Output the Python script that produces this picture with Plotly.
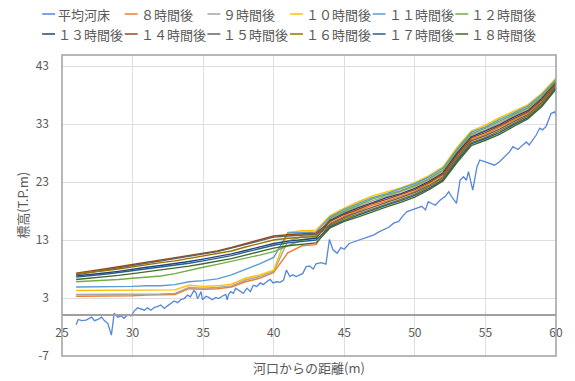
import plotly.graph_objects as go

# ---- data -------------------------------------------------------------
# cross-section positions for the water-level series (m from the river mouth)
distance = [26, 27, 28, 29, 30, 31, 32, 33, 34, 35, 36, 37, 38, 39, 40, 41, 42,
            43, 44, 45, 46, 47, 48, 49, 50, 51, 52, 53, 54, 55, 56, 57, 58, 59, 60]

# mean river-bed profile
bed_distance = [26.0, 26.15, 26.4, 26.7, 27.1, 27.3, 27.55, 27.8, 28.0, 28.25, 28.5, 28.7,
                28.95, 29.2, 29.4, 29.65, 29.9, 30.1, 30.35, 30.6, 30.85, 31.05, 31.3, 31.55,
                31.75, 32.0, 32.25, 32.45, 32.7, 32.95, 33.2, 33.4, 33.65, 33.9, 34.1, 34.35,
                34.5, 34.6, 34.7, 34.85, 34.95, 35.2, 35.4, 35.65, 35.9, 36.1, 36.35, 36.6,
                36.7, 36.8, 36.95, 37.15, 37.3, 37.5, 37.65, 37.85, 38.1, 38.35, 38.55, 38.8,
                39.05, 39.25, 39.5, 39.75, 39.95, 40.2, 40.45, 40.7, 40.9, 41.15, 41.35, 41.6,
                41.85, 42.05, 42.3, 42.55, 42.8, 43.0, 43.35, 43.7, 43.95, 44.2, 44.5, 44.75,
                45.0, 45.35, 45.7, 46.05, 46.4, 46.75, 47.1, 47.45, 47.8, 48.15, 48.5, 48.85,
                49.2, 49.45, 49.8, 50.15, 50.5, 50.75, 50.95, 51.2, 51.45, 51.8, 52.15, 52.4,
                52.6, 52.95, 53.2, 53.45, 53.65, 53.8, 54.1, 54.4, 54.6, 54.95, 55.3, 55.65,
                56.0, 56.35, 56.7, 56.95, 57.3, 57.65, 57.9, 58.1, 58.35, 58.6, 58.85, 59.05,
                59.3, 59.65, 59.9, 60.0]
bed_elevation = [-1.6, -0.7, -0.9, -0.8, -0.3, -0.9, -0.7, -0.3, -0.9, -1.4, -3.4, 0.4,
                 -0.3, -0.1, -0.5, 0.1, -0.1, 0.7, 1.3, 1.1, 0.9, 1.3, 0.9, 1.4,
                 1.5, 1.8, 1.2, 1.6, 2.1, 2.5, 2.2, 2.7, 2.9, 3.5, 3.2, 4.3,
                 3.9, 2.9, 3.3, 4.1, 2.7, 3.3, 3.1, 2.7, 3.1, 2.9, 3.3, 3.6,
                 2.7, 3.6, 4.1, 3.8, 4.7, 4.4, 4.1, 3.8, 4.7, 4.1, 5.2, 5.0,
                 5.6, 5.3, 5.8, 6.2, 5.6, 5.8, 5.7, 6.1, 7.8, 6.7, 7.0, 6.7,
                 7.0, 7.2, 8.4, 8.5, 8.0, 8.9, 9.1, 8.85, 13.1, 11.3, 10.7, 11.7,
                 11.4, 12.4, 12.7, 13.0, 13.3, 13.6, 13.9, 14.4, 14.8, 15.2, 15.9, 16.2,
                 17.3, 17.9, 18.2, 18.5, 18.8, 18.2, 19.6, 19.3, 19.0, 19.9, 20.5, 21.35,
                 20.5, 19.3, 23.3, 23.9, 23.3, 24.8, 21.6, 25.6, 26.8, 26.5, 26.2, 25.9,
                 26.5, 27.4, 28.2, 29.1, 28.6, 29.4, 29.9, 29.4, 30.3, 31.1, 32.3, 32.0,
                 32.6, 34.8, 35.1, 34.6]

# water levels, hours after the start
level_8h = [3.3, 3.3, 3.4, 3.4, 3.4, 3.5, 3.5, 3.6, 4.6, 4.5, 4.6, 4.9, 5.8, 6.4, 7.4, 10.8, 12.0,
            12.2, 15.9, 17.1, 18.0, 19.0, 19.7, 20.5, 21.4, 22.7, 24.2, 27.4, 30.3, 31.2, 32.4,
            33.6, 34.9, 36.9, 39.8]
level_9h = [3.6, 3.6, 3.6, 3.6, 3.7, 3.7, 3.7, 3.8, 4.8, 4.7, 4.8, 5.1, 6.1, 6.7, 7.6, 12.8, 13.6,
            13.8, 16.6, 17.8, 18.8, 19.8, 20.5, 21.3, 22.2, 23.4, 24.9, 28.2, 31.1, 32.0, 33.2,
            34.4, 35.6, 37.6, 40.3]
level_10h = [4.3, 4.3, 4.3, 4.3, 4.3, 4.3, 4.3, 4.4, 5.2, 5.0, 5.1, 5.4, 6.4, 7.0, 7.8, 14.3, 14.6,
             14.7, 17.2, 18.5, 19.6, 20.6, 21.3, 22.0, 22.9, 24.1, 25.6, 29.0, 31.8, 32.8, 34.1,
             35.2, 36.3, 38.3, 40.9]
level_11h = [4.9, 4.9, 5.0, 5.0, 5.0, 5.1, 5.1, 5.3, 5.8, 6.0, 6.3, 7.0, 7.9, 8.9, 10.0, 14.2, 14.3,
             14.4, 17.0, 18.3, 19.3, 20.3, 21.0, 21.8, 22.7, 23.9, 25.4, 28.7, 31.6, 32.5, 33.8,
             34.9, 36.1, 38.1, 40.7]
level_12h = [5.8, 5.9, 6.0, 6.2, 6.4, 6.6, 6.8, 7.2, 7.8, 8.3, 8.8, 9.3, 9.8, 10.4, 11.0, 12.0, 13.0,
             13.4, 16.8, 18.0, 19.1, 20.1, 20.8, 21.5, 22.4, 23.6, 25.1, 28.5, 31.3, 32.3, 33.5,
             34.7, 35.8, 37.8, 40.5]
level_13h = [6.8, 7.0, 7.3, 7.6, 8.0, 8.3, 8.6, 8.9, 9.3, 9.7, 10.1, 10.6, 11.2, 11.8, 12.4, 12.8,
             13.1, 13.3, 16.4, 17.6, 18.6, 19.5, 20.3, 21.0, 21.9, 23.1, 24.6, 28.0, 30.8, 31.8,
             32.9, 34.2, 35.3, 37.4, 40.1]
level_14h = [7.3, 7.6, 8.0, 8.4, 8.8, 9.2, 9.5, 9.9, 10.3, 10.7, 11.1, 11.7, 12.4, 13.0, 13.7, 13.9,
             14.1, 14.2, 16.2, 17.4, 18.3, 19.3, 20.0, 20.8, 21.7, 22.9, 24.4, 27.7, 30.6, 31.5,
             32.7, 33.9, 35.1, 37.2, 40.0]
level_15h = [7.0, 7.4, 7.8, 8.2, 8.6, 9.0, 9.4, 9.8, 10.1, 10.5, 11.0, 11.6, 12.2, 12.9, 13.5, 13.7,
             13.9, 14.0, 15.7, 16.9, 17.8, 18.7, 19.5, 20.3, 21.2, 22.4, 23.9, 27.2, 30.1, 31.0,
             32.1, 33.4, 34.6, 36.7, 39.6]
level_16h = [7.2, 7.4, 7.7, 8.0, 8.4, 8.8, 9.1, 9.4, 9.8, 10.2, 10.6, 11.1, 11.8, 12.4, 13.0, 13.3,
             13.5, 13.6, 15.5, 16.7, 17.5, 18.4, 19.2, 20.0, 20.9, 22.2, 23.7, 26.9, 29.8, 30.7,
             31.8, 33.1, 34.4, 36.5, 39.4]
level_17h = [6.6, 6.8, 7.1, 7.4, 7.7, 8.0, 8.3, 8.6, 9.0, 9.4, 9.8, 10.3, 10.9, 11.5, 12.1, 12.5,
             12.8, 13.0, 15.3, 16.4, 17.3, 18.2, 19.0, 19.8, 20.7, 21.9, 23.4, 26.7, 29.6, 30.5,
             31.5, 32.9, 34.1, 36.2, 39.2]
level_18h = [6.2, 6.4, 6.6, 6.9, 7.2, 7.5, 7.8, 8.1, 8.5, 8.9, 9.3, 9.8, 10.4, 11.0, 11.6, 12.0,
             12.3, 12.5, 15.1, 16.2, 17.0, 17.9, 18.7, 19.5, 20.4, 21.7, 23.2, 26.4, 29.3, 30.2,
             31.2, 32.6, 33.9, 36.0, 39.0]

series_names = ["平均河床", "８時間後", "９時間後", "１０時間後", "１１時間後", "１２時間後",
                "１３時間後", "１４時間後", "１５時間後", "１６時間後", "１７時間後", "１８時間後"]
water_levels = [level_8h, level_9h, level_10h, level_11h, level_12h, level_13h,
                level_14h, level_15h, level_16h, level_17h, level_18h]

x_tick_values = [25, 30, 35, 40, 45, 50, 55, 60]
y_tick_values = [-7, 3, 13, 23, 33, 43]
y_tick_labels = ["-7", "3", "13", "23", "33", "43"]

# ---- styling ----------------------------------------------------------
colors = ["#5586D8", "#ED7D31", "#A5A5A5", "#FFC000", "#5B9BD5", "#70AD47",
          "#264478", "#9E480E", "#636363", "#997300", "#255E91", "#43682B"]
FONT = "Noto Sans CJK JP"
TEXT = "#595959"
GRID = "#DEDEDE"
FRAME = "#A0A0A0"

W, H = 575, 381
ML, MR, MT, MB = 62, 15, 55, 25
PW, PH = W - ML - MR, H - MT - MB
Y_MIN, Y_MAX = -7, 44.9


def px_x(px):
    return (px - ML) / PW


def px_y(py):
    return (H - MB - py) / PH


fig = go.Figure()
fig.add_trace(go.Scatter(x=bed_distance, y=bed_elevation, mode="lines",
                         name=series_names[0], line=dict(color=colors[0], width=1.3)))
for name, color, levels in zip(series_names[1:], colors[1:], water_levels):
    fig.add_trace(go.Scatter(x=distance, y=levels, mode="lines", name=name,
                             line=dict(color=color, width=1.4)))

# legend drawn as short line keys with labels, two rows of six
shapes, annotations = [], []
for i, (name, color) in enumerate(zip(series_names, colors)):
    row, col = divmod(i, 6)
    x0 = 42 + col * 83.3
    yc = 14 + row * 20
    shapes.append(dict(type="line", xref="paper", yref="paper",
                       x0=px_x(x0), x1=px_x(x0 + 13), y0=px_y(yc), y1=px_y(yc),
                       line=dict(color=color, width=1.5)))
    annotations.append(dict(xref="paper", yref="paper", x=px_x(x0 + 14), y=px_y(yc),
                            xanchor="left", yanchor="middle", showarrow=False, text=name,
                            font=dict(family=FONT, size=13, color=TEXT)))

# plot-area frame
shapes.append(dict(type="rect", xref="paper", yref="paper", x0=0, x1=1, y0=0, y1=1,
                   line=dict(color=FRAME, width=1.5), layer="above"))

# axis titles
annotations.append(dict(xref="paper", yref="paper", x=0.5, y=px_y(367),
                        xanchor="center", yanchor="middle", showarrow=False,
                        text="河口からの距離(m)", font=dict(family=FONT, size=13, color=TEXT)))
annotations.append(dict(xref="paper", yref="paper", x=px_x(22), y=0.5, textangle=-90,
                        xanchor="center", yanchor="middle", showarrow=False,
                        text="標高(T.P.m)", font=dict(family=FONT, size=13, color=TEXT)))

fig.update_layout(
    width=W, height=H,
    margin=dict(l=ML, r=MR, t=MT, b=MB),
    paper_bgcolor="white", plot_bgcolor="white",
    showlegend=False,
    font=dict(family=FONT, size=12, color=TEXT),
    shapes=shapes, annotations=annotations,
    xaxis=dict(range=[25, 60], tickvals=x_tick_values, showgrid=True, gridcolor=GRID,
               gridwidth=1, zeroline=False, showline=True, linecolor=FRAME, linewidth=1.5,
               anchor="free", position=(0 - Y_MIN) / (Y_MAX - Y_MIN), ticks="",
               ticklabelstandoff=6, tickfont=dict(family=FONT, size=12, color=TEXT)),
    yaxis=dict(range=[Y_MIN, Y_MAX], tickvals=y_tick_values, ticktext=y_tick_labels,
               showgrid=True, gridcolor=GRID, gridwidth=1, zeroline=False,
               showline=False, ticks="", ticklabelstandoff=12,
               tickfont=dict(family=FONT, size=12, color=TEXT)),
)

fig.write_html("out.html", config={"displayModeBar": False})
